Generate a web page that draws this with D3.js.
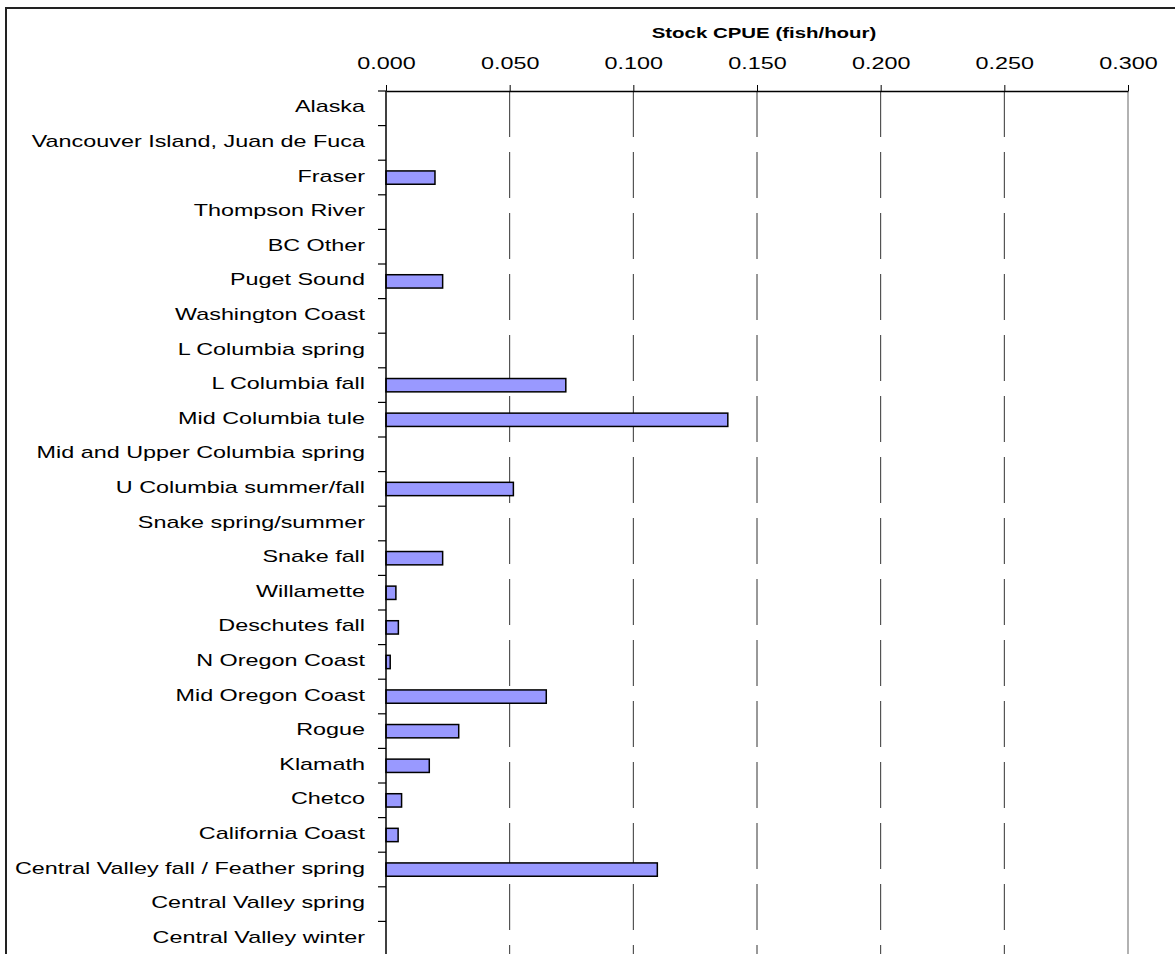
<!DOCTYPE html>
<html>
<head>
<meta charset="utf-8">
<script src="https://cdn.jsdelivr.net/npm/d3@7"></script>
<style>
  body { margin: 0; background: #ffffff; }
  svg text { font-family: Arial, "Liberation Sans", sans-serif; fill: #000; }
</style>
</head>
<body>
<div id="myGraph"></div>
<script>
// stock groups (top to bottom) and CPUE values
const stocks = [
  'Alaska',
  'Vancouver Island, Juan de Fuca',
  'Fraser',
  'Thompson River',
  'BC Other',
  'Puget Sound',
  'Washington Coast',
  'L Columbia spring',
  'L Columbia fall',
  'Mid Columbia tule',
  'Mid and Upper Columbia spring',
  'U Columbia summer/fall',
  'Snake spring/summer',
  'Snake fall',
  'Willamette',
  'Deschutes fall',
  'N Oregon Coast',
  'Mid Oregon Coast',
  'Rogue',
  'Klamath',
  'Chetco',
  'California Coast',
  'Central Valley fall / Feather spring',
  'Central Valley spring',
  'Central Valley winter'
];
const cpue = [
  0, 0, 0.0198, 0, 0, 0.0229, 0, 0, 0.0727, 0.1382,
  0, 0.0515, 0, 0.0229, 0.0040, 0.0050, 0.0017, 0.0648, 0.0294, 0.0175,
  0.0063, 0.0049, 0.1097, 0, 0
];
const xTicks = [0, 0.05, 0.1, 0.15, 0.2, 0.25, 0.3];
const axisTitle = 'Stock CPUE (fish/hour)';

function drawChart() {
  const svgWidth = 1175;
  const svgHeight = 954;
  const stretch = 1.46; // 横に引き伸ばされた文字

  var svg = d3.select('#myGraph')
    .append('svg')
    .attr('width', svgWidth)
    .attr('height', svgHeight);

  // outer chart frame (runs off the right / bottom)
  svg.append('rect')
    .attr('x', 6).attr('y', 8)
    .attr('width', svgWidth + 20).attr('height', svgHeight + 20)
    .attr('fill', 'white')
    .attr('stroke', '#222')
    .attr('stroke-width', 2);

  var x = d3.scaleLinear().domain([0, 0.3]).range([386, 1128]);
  var y = d3.scaleBand().domain(stocks).range([91, 956]).padding(0);
  var bw = y.bandwidth();

  // dashed gridlines
  svg.append('g')
    .selectAll('line')
    .data(xTicks.filter(t => t > 0 && t < 0.3))
    .enter()
    .append('line')
    .attr('x1', d => x(d)).attr('x2', d => x(d))
    .attr('y1', y.range()[0]).attr('y2', y.range()[1])
    .attr('stroke', '#333')
    .attr('stroke-width', 1)
    .attr('stroke-dasharray', '46,15');

  // right plot border (gray)
  svg.append('line')
    .attr('x1', x(0.3)).attr('x2', x(0.3))
    .attr('y1', y.range()[0]).attr('y2', y.range()[1])
    .attr('stroke', '#999')
    .attr('stroke-width', 1.5);

  // bars
  svg.append('g')
    .selectAll('rect')
    .data(stocks.map((s, i) => ({ stock: s, value: cpue[i] })).filter(d => d.value > 0))
    .enter()
    .append('rect')
    .attr('x', x(0))
    .attr('y', d => y(d.stock) + bw * 0.31)
    .attr('width', d => x(d.value) - x(0))
    .attr('height', bw * 0.385)
    .attr('fill', '#9999ff')
    .attr('stroke', '#000')
    .attr('stroke-width', 1.5);

  // top axis
  var xAxis = svg.append('g')
    .attr('transform', `translate(0,${y.range()[0]})`)
    .call(d3.axisTop(x).tickValues(xTicks).tickFormat(d3.format('.3f')).tickSize(6).tickSizeOuter(0));
  xAxis.select('.domain').attr('stroke', '#000').attr('stroke-width', 1.5);
  xAxis.selectAll('.tick line').attr('stroke', '#000');
  xAxis.selectAll('.tick text')
    .attr('y', 0).attr('dy', 0)
    .attr('transform', `translate(0,-22) scale(${stretch},1)`)
    .style('font-size', '16px');

  // axis title
  svg.append('text')
    .attr('transform', `translate(${(x.range()[0] + x.range()[1]) / 2 + 7},38) scale(${stretch},1)`)
    .attr('text-anchor', 'middle')
    .style('font-size', '14px')
    .style('font-weight', 'bold')
    .text(axisTitle);

  // left axis: line + ticks at band edges
  svg.append('line')
    .attr('x1', x(0)).attr('x2', x(0))
    .attr('y1', y.range()[0]).attr('y2', y.range()[1])
    .attr('stroke', '#000')
    .attr('stroke-width', 1.5);
  var edges = stocks.map(s => y(s)).concat([y.range()[1]]);
  svg.append('g')
    .selectAll('line')
    .data(edges)
    .enter()
    .append('line')
    .attr('x1', x(0) - 8).attr('x2', x(0))
    .attr('y1', d => d).attr('y2', d => d)
    .attr('stroke', '#000')
    .attr('stroke-width', 1.2);

  // category labels
  svg.append('g')
    .selectAll('text')
    .data(stocks)
    .enter()
    .append('text')
    .attr('transform', d => `translate(365,${y(d) + bw / 2 + 4}) scale(${stretch},1)`)
    .attr('text-anchor', 'end')
    .style('font-size', '16px')
    .text(d => d);
}

drawChart();
</script>
</body>
</html>
